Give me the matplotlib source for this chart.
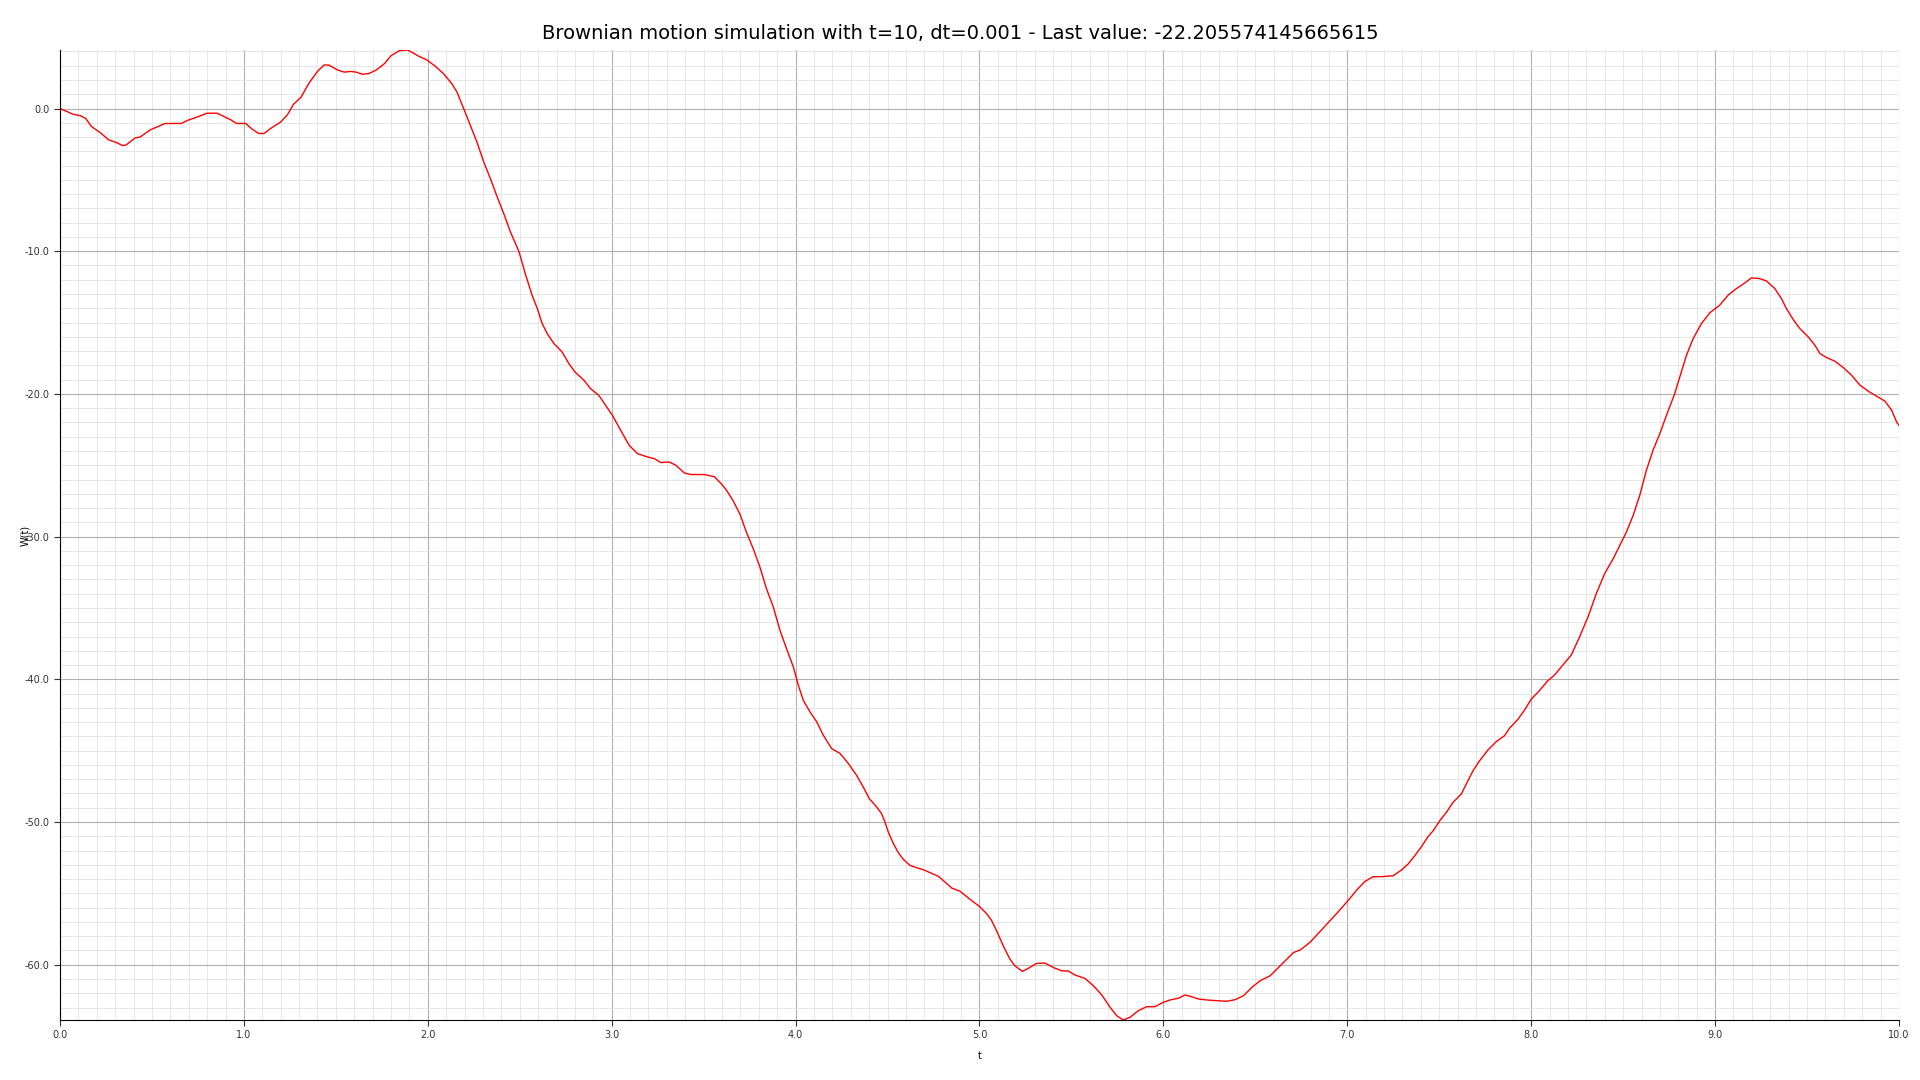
import matplotlib
matplotlib.use('Agg')
import matplotlib.pyplot as plt
from matplotlib.ticker import MultipleLocator, FormatStrFormatter

# points (t, W(t))
t_pts = [0.0, 0.036, 0.07, 0.11, 0.14, 0.17, 0.22, 0.265, 0.31, 0.34,
         0.36, 0.41, 0.436, 0.49, 0.545, 0.57, 0.66, 0.69, 0.745, 0.8,
         0.855, 0.89, 0.93, 0.96, 1.01, 1.045, 1.08, 1.11, 1.145, 1.2,
         1.236, 1.27, 1.31, 1.355, 1.4, 1.436, 1.46, 1.51, 1.545, 1.58,
         1.61, 1.645, 1.68, 1.72, 1.765, 1.8, 1.845, 1.89, 1.92, 1.945,
         1.995, 2.04, 2.085, 2.13, 2.158, 2.195, 2.231, 2.267, 2.304, 2.34,
         2.376, 2.413, 2.449, 2.495, 2.53, 2.567, 2.595, 2.622, 2.649, 2.686,
         2.73, 2.767, 2.8, 2.849, 2.885, 2.93, 2.967, 3.004, 3.049, 3.095,
         3.14, 3.195, 3.231, 3.267, 3.313, 3.349, 3.395, 3.431, 3.504, 3.558,
         3.595, 3.624, 3.66, 3.697, 3.733, 3.77, 3.806, 3.842, 3.879, 3.915,
         3.951, 3.988, 4.015, 4.042, 4.078, 4.115, 4.151, 4.196, 4.242, 4.287,
         4.332, 4.368, 4.401, 4.441, 4.468, 4.486, 4.504, 4.532, 4.559, 4.586,
         4.622, 4.658, 4.694, 4.731, 4.776, 4.812, 4.849, 4.894, 4.948, 5.0,
         5.038, 5.065, 5.093, 5.129, 5.165, 5.192, 5.234, 5.274, 5.31, 5.356,
         5.401, 5.446, 5.483, 5.519, 5.574, 5.619, 5.664, 5.71, 5.746, 5.782,
         5.819, 5.864, 5.909, 5.955, 6.0, 6.036, 6.082, 6.118, 6.154, 6.19,
         6.236, 6.29, 6.345, 6.39, 6.436, 6.481, 6.526, 6.581, 6.626, 6.672,
         6.708, 6.744, 6.8, 6.85, 6.9, 6.95, 7.011, 7.051, 7.096, 7.141,
         7.186, 7.25, 7.295, 7.331, 7.367, 7.403, 7.439, 7.467, 7.503, 7.539,
         7.575, 7.62, 7.647, 7.684, 7.72, 7.765, 7.81, 7.855, 7.882, 7.928,
         7.964, 8.0, 8.045, 8.09, 8.127, 8.172, 8.218, 8.263, 8.309, 8.354,
         8.399, 8.445, 8.481, 8.517, 8.554, 8.59, 8.626, 8.662, 8.699, 8.735,
         8.78, 8.808, 8.844, 8.88, 8.926, 8.971, 9.025, 9.071, 9.116, 9.152,
         9.198, 9.243, 9.279, 9.325, 9.361, 9.388, 9.425, 9.461, 9.506, 9.543,
         9.57, 9.606, 9.652, 9.697, 9.742, 9.788, 9.833, 9.878, 9.924, 9.96,
         9.987, 10.0]
w_pts = [0.0, -0.2, -0.4, -0.5, -0.7, -1.25, -1.7, -2.2, -2.4, -2.6,
         -2.55, -2.05, -2.0, -1.5, -1.2, -1.05, -1.05, -0.85, -0.6, -0.33,
         -0.33, -0.55, -0.8, -1.05, -1.05, -1.45, -1.75, -1.75, -1.4, -0.95,
         -0.45, 0.3, 0.78, 1.8, 2.6, 3.05, 3.05, 2.7, 2.55, 2.6,
         2.55, 2.4, 2.45, 2.7, 3.15, 3.7, 4.05, 4.1, 3.9, 3.7,
         3.4, 2.97, 2.45, 1.75, 1.17, 0.0, -1.17, -2.34, -3.74, -4.9,
         -6.15, -7.36, -8.64, -10.0, -11.57, -13.08, -14.0, -15.07, -15.77, -16.47,
         -17.06, -17.87, -18.46, -19.04, -19.63, -20.1, -20.8, -21.5, -22.55, -23.6,
         -24.18, -24.42, -24.53, -24.81, -24.77, -25.0, -25.54, -25.65, -25.65, -25.8,
         -26.28, -26.74, -27.48, -28.41, -29.7, -30.86, -32.14, -33.66, -34.94, -36.57,
         -37.86, -39.14, -40.42, -41.47, -42.28, -42.98, -43.92, -44.85, -45.2, -45.9,
         -46.73, -47.55, -48.36, -48.95, -49.42, -50.0, -50.7, -51.52, -52.15, -52.62,
         -53.04, -53.2, -53.34, -53.55, -53.8, -54.2, -54.63, -54.85, -55.41, -55.92,
         -56.41, -56.88, -57.62, -58.67, -59.6, -60.07, -60.47, -60.19, -59.91, -59.88,
         -60.19, -60.42, -60.44, -60.72, -60.96, -61.47, -62.1, -62.98, -63.57, -63.87,
         -63.68, -63.22, -62.94, -62.94, -62.63, -62.47, -62.35, -62.12, -62.24, -62.4,
         -62.47, -62.52, -62.56, -62.45, -62.17, -61.59, -61.12, -60.77, -60.19, -59.6,
         -59.14, -58.97, -58.4, -57.7, -57.0, -56.3, -55.4, -54.77, -54.16, -53.83,
         -53.83, -53.76, -53.36, -52.94, -52.36, -51.73, -51.03, -50.61, -49.91, -49.32,
         -48.62, -48.04, -47.34, -46.4, -45.7, -44.95, -44.37, -43.95, -43.43, -42.8,
         -42.15, -41.4, -40.79, -40.1, -39.7, -39.0, -38.3, -37.03, -35.63, -34.0,
         -32.6, -31.57, -30.63, -29.7, -28.53, -27.13, -25.37, -23.97, -22.8, -21.52,
         -20.0, -18.83, -17.31, -16.14, -15.07, -14.32, -13.79, -13.08, -12.62, -12.31,
         -11.87, -11.92, -12.08, -12.62, -13.32, -14.02, -14.79, -15.42, -16.0, -16.59,
         -17.17, -17.45, -17.71, -18.15, -18.69, -19.39, -19.81, -20.16, -20.51, -21.14,
         -21.96, -22.205574145665615]

plt.rcParams['axes.unicode_minus'] = False

fig = plt.figure(figsize=(19.2, 10.8), dpi=100)
ax = fig.add_axes([0.03125, 0.0556, 0.9578, 0.8981])

ax.plot(t_pts, w_pts, color='red', linewidth=1)
ax.margins(x=0, y=0)

ax.xaxis.set_major_locator(MultipleLocator(1.0))
ax.xaxis.set_minor_locator(MultipleLocator(0.1))
ax.yaxis.set_major_locator(MultipleLocator(10.0))
ax.yaxis.set_minor_locator(MultipleLocator(1.0))
ax.xaxis.set_major_formatter(FormatStrFormatter('%.1f'))
ax.yaxis.set_major_formatter(FormatStrFormatter('%.1f'))

ax.grid(which='major', color='#b0b0b0', linewidth=0.8)
ax.grid(which='minor', color='#e3e3e3', linewidth=0.6)
ax.set_axisbelow(True)
ax.tick_params(which='major', labelsize=7, length=4, colors='#333333')
ax.tick_params(which='minor', length=0)

for side in ['top', 'right']:
    ax.spines[side].set_visible(False)

# title is centred on the figure, not the axes
fig.text(0.5, 0.969, 'Brownian motion simulation with t=10, dt=0.001 - Last value: '
         '-22.205574145665615', fontsize=14, ha='center', va='center')
ax.set_xlabel('t', fontsize=7, labelpad=8)
ax.set_ylabel('W(t)', fontsize=7)
ax.yaxis.set_label_coords(-0.016, 0.5)

fig.savefig('out.png', dpi=100)
